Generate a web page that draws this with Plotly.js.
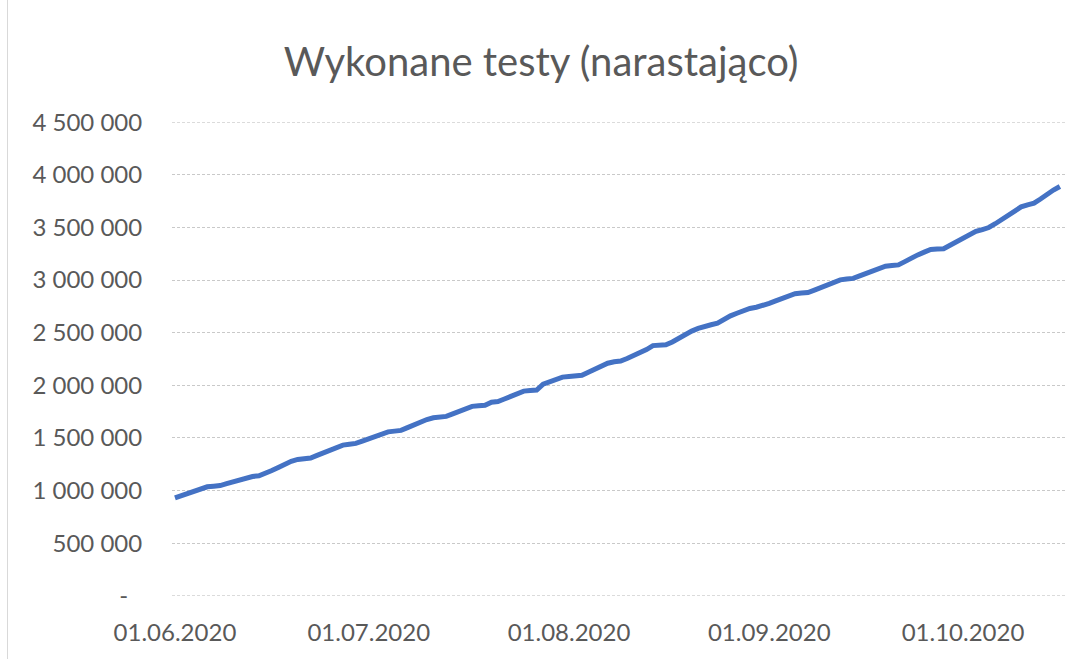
<!DOCTYPE html>
<html>
<head>
<meta charset="utf-8">
<script src="https://cdn.plot.ly/plotly-3.0.1.min.js"></script>
<style>
  html, body { margin: 0; padding: 0; background: #ffffff; }
  #wrap { position: relative; width: 1082px; height: 659px; }
  #chart { width: 1082px; height: 659px; }
  #edge { position: absolute; left: 7px; top: 0; width: 1px; height: 659px; background: #d9d9d9; }
</style>
</head>
<body>
<div id="wrap">
  <div id="chart"></div>
  <div id="edge"></div>
</div>
<script>
// Title and axis tick labels
const chartTitle = "Wykonane testy (narastająco)";
const yTickValues = [0, 500000, 1000000, 1500000, 2000000, 2500000, 3000000, 3500000, 4000000, 4500000];
const yTickLabels = ["-\u2007", "500 000", "1 000 000", "1 500 000", "2 000 000", "2 500 000", "3 000 000", "3 500 000", "4 000 000", "4 500 000"];
const xTickDates = ["2020-06-01", "2020-07-01", "2020-08-01", "2020-09-01", "2020-10-01"];
const xTickLabels = ["01.06.2020", "01.07.2020", "01.08.2020", "01.09.2020", "01.10.2020"];

// First day of the daily series (consecutive days)
const firstDay = "2020-06-01";

// Cumulative tests, one value per day (thousands)
const testsThousands = [
  930, 950, 972, 995, 1018, 1036, 1042,
  1048, 1066, 1085, 1104, 1122, 1134, 1140,
  1160, 1190, 1220, 1250, 1278, 1296, 1302,
  1310, 1335, 1362, 1390, 1415, 1432, 1440,
  1448, 1470, 1495, 1520, 1545, 1558, 1565,
  1572, 1598, 1625, 1650, 1675, 1692, 1698,
  1705, 1728, 1752, 1776, 1800, 1806, 1810,
  1840, 1846, 1870, 1895, 1920, 1945, 1950,
  1955, 2010, 2035, 2058, 2078, 2084, 2088,
  2095, 2125, 2155, 2185, 2210, 2224, 2230,
  2255, 2280, 2304, 2340, 2377, 2381, 2385,
  2412, 2450, 2488, 2515, 2540, 2562, 2575,
  2590, 2630, 2660, 2685, 2710, 2730, 2742,
  2754, 2778, 2802, 2826, 2850, 2870, 2876,
  2882, 2905, 2930, 2955, 2980, 3002, 3010,
  3016, 3040, 3065, 3090, 3115, 3132, 3138,
  3144, 3175, 3210, 3239, 3265, 3290, 3294,
  3298, 3330, 3365, 3400, 3430, 3462, 3480,
  3499, 3535, 3575, 3620, 3660, 3695, 3715,
  3730, 3770, 3815, 3855, 3889
];

// Build date categories (consecutive days from firstDay)
const dates = [];
{
  const d0 = new Date(firstDay + "T00:00:00Z");
  for (let i = 0; i < testsThousands.length; i++) {
    const d = new Date(d0.getTime() + i * 86400000);
    dates.push(d.toISOString().slice(0, 10));
  }
}
const tests = testsThousands.map(v => v * 1000);

const font = "Lato, 'Open Sans', 'Liberation Sans', sans-serif";
const grey = "#595959";
const gridColor = "#c9c9c9";
const gridDash = "3px,2px";

// Gridlines at the two ends of the value range (Plotly hides edge gridlines)
const edgeValues = [yTickValues[0], yTickValues[yTickValues.length - 1]];
const edgeShapes = edgeValues.map(v => ({
  type: "line", xref: "paper", yref: "y",
  x0: 0, x1: 1, y0: v, y1: v,
  line: { color: gridColor, width: 1, dash: gridDash },
  layer: "below"
}));

const trace = {
  type: "scatter",
  mode: "lines",
  x: dates,
  y: tests,
  line: { color: "#4472C4", width: 5 },
  hoverinfo: "x+y"
};

const layout = {
  width: 1082,
  height: 659,
  paper_bgcolor: "#ffffff",
  plot_bgcolor: "#ffffff",
  margin: { l: 172, r: 17, t: 122, b: 63, pad: 0 },
  showlegend: false,
  shapes: edgeShapes,
  title: {
    text: chartTitle,
    font: { family: font, size: 40, color: grey },
    x: 0.5, xanchor: "center", xref: "container",
    y: 1 - 62 / 659, yanchor: "middle", yref: "container"
  },
  xaxis: {
    type: "date",
    range: ["2020-05-31 13:00", "2020-10-16 19:00"],
    tickmode: "array",
    tickvals: xTickDates,
    ticktext: xTickLabels,
    ticks: "outside",
    ticklen: 15,
    tickcolor: "rgba(0,0,0,0)",
    tickfont: { family: font, size: 24, color: grey },
    showgrid: false,
    zeroline: false,
    showline: false,
    fixedrange: true
  },
  yaxis: {
    range: [-1500, 4501500],
    tickmode: "array",
    tickvals: yTickValues,
    ticktext: yTickLabels,
    ticks: "outside",
    ticklen: 24,
    tickcolor: "rgba(0,0,0,0)",
    tickfont: { family: font, size: 24, color: grey },
    showgrid: true,
    gridcolor: gridColor,
    gridwidth: 1,
    griddash: gridDash,
    zeroline: false,
    showline: false,
    fixedrange: true
  }
};

Plotly.newPlot("chart", [trace], layout, { displayModeBar: false, staticPlot: true });
</script>
</body>
</html>
